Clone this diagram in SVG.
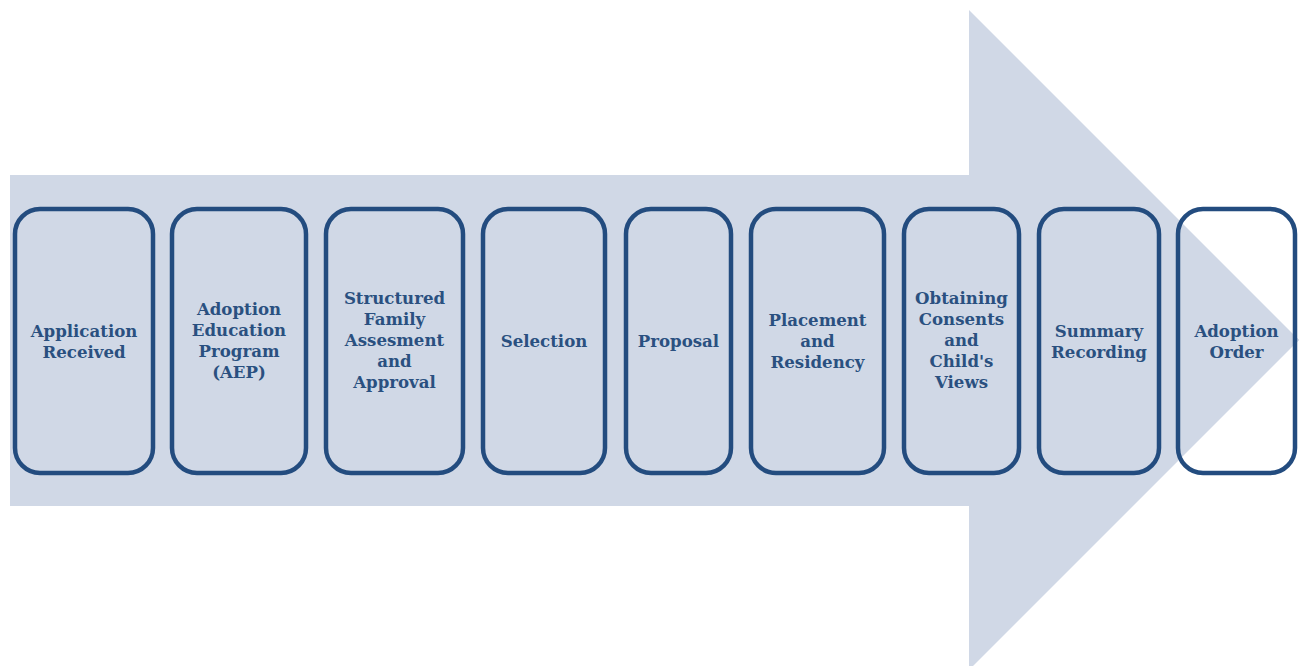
<svg xmlns="http://www.w3.org/2000/svg" width="1299" height="666" viewBox="0 0 1299 666">
<style>
.box{fill:#D0D8E6;stroke:#234C7F;stroke-width:4.5}
.last{fill:none;stroke:#234C7F;stroke-width:4.5}
.t{font-family:"DejaVu Serif","Liberation Serif",serif;font-weight:bold;font-size:16.6px;fill:#2A5080;text-anchor:middle}
</style>
<rect width="1299" height="666" fill="#FFFFFF"/>
<g id="arrow">
<polygon points="10,175 969,175 969,10 1299,340 969,670 969,506 10,506" fill="#D0D8E6"/>
</g>
<g id="connectors"></g>
<g id="n1"><rect class="box" x="15" y="209" width="138" height="264" rx="25"/>
<text class="t" x="84" y="337">Application</text><text class="t" x="84" y="358">Received</text></g>
<g id="n2"><rect class="box" x="172" y="209" width="134" height="264" rx="25"/>
<text class="t" x="239" y="315">Adoption</text><text class="t" x="239" y="336">Education</text><text class="t" x="239" y="357">Program</text><text class="t" x="239" y="378">(AEP)</text></g>
<g id="n3"><rect class="box" x="326" y="209" width="137" height="264" rx="25"/>
<text class="t" x="394.5" y="304">Structured</text><text class="t" x="394.5" y="325">Family</text><text class="t" x="394.5" y="346">Assesment</text><text class="t" x="394.5" y="367">and</text><text class="t" x="394.5" y="388">Approval</text></g>
<g id="n4"><rect class="box" x="483" y="209" width="122" height="264" rx="25"/>
<text class="t" x="544" y="347">Selection</text></g>
<g id="n5"><rect class="box" x="626" y="209" width="105" height="264" rx="25"/>
<text class="t" x="678.5" y="347">Proposal</text></g>
<g id="n6"><rect class="box" x="751" y="209" width="133" height="264" rx="25"/>
<text class="t" x="817.5" y="326">Placement</text><text class="t" x="817.5" y="347">and</text><text class="t" x="817.5" y="368">Residency</text></g>
<g id="n7"><rect class="box" x="904" y="209" width="115" height="264" rx="25"/>
<text class="t" x="961.5" y="304">Obtaining</text><text class="t" x="961.5" y="325">Consents</text><text class="t" x="961.5" y="346">and</text><text class="t" x="961.5" y="367">Child's</text><text class="t" x="961.5" y="388">Views</text></g>
<g id="n8"><rect class="box" x="1039" y="209" width="120" height="264" rx="25"/>
<text class="t" x="1099" y="337">Summary</text><text class="t" x="1099" y="358">Recording</text></g>
<g id="n9"><path d="M1178,209 H1295 V473 H1178 Z" fill="#FFFFFF" stroke="none"/>
<polygon points="1178,219 1299,340 1178,461" fill="#D0D8E6"/>
<rect class="last" x="1178" y="209" width="117" height="264" rx="25"/>
<text class="t" x="1236.5" y="337">Adoption</text><text class="t" x="1236.5" y="358">Order</text></g>
</svg>
